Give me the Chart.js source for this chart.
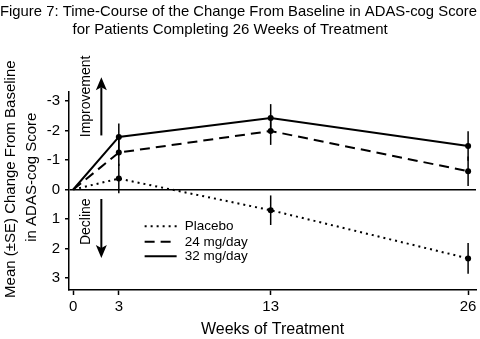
<!DOCTYPE html>
<html>
<head>
<meta charset="utf-8">
<script src="https://cdn.jsdelivr.net/npm/chart.js@4/dist/chart.umd.min.js"></script>
<style>
  html, body { margin: 0; padding: 0; background: #fff; }
  #wrap { width: 480px; height: 339px; }
</style>
</head>
<body>
<div id="wrap"><canvas id="chart" width="480" height="339"></canvas></div>
<script>
// Data
const weeks = [0, 3, 13, 26];
const yTicks = [-3, -2, -1, 0, 1, 2, 3];

const placebo = [0, -0.37, 0.70, 2.33];
const placeboSE = [0, 0.5, 0.5, 0.52];
const mg24 = [0, -1.25, -1.98, -0.62];
const mg24SE = [0, 0.45, 0.47, 0.5];
const mg32 = [0, -1.78, -2.42, -1.47];
const mg32SE = [0, 0.45, 0.47, 0.5];

const yTitle = ['Mean (\u00B1SE) Change From Baseline', 'in ADAS-cog Score'];

const FONT = 'Liberation Sans, Arial, Helvetica, sans-serif';

function makeSeries(label, values, se, dash) {
  return {
    label: label,
    data: weeks.map((w, i) => ({ x: w, y: values[i] })),
    se: se,
    borderColor: '#000',
    backgroundColor: '#000',
    borderWidth: 2,
    borderDash: dash,
    pointRadius: weeks.map((w, i) => (i === 0 ? 0 : 3)),
    pointBackgroundColor: '#000',
    pointBorderWidth: 0,
    tension: 0
  };
}

// error bars, direction arrows, y title and the legend box
const extrasPlugin = {
  id: 'extras',
  afterDatasetsDraw(chart) {
    const ctx = chart.ctx;
    const xs = chart.scales.x;
    const ys = chart.scales.y;
    ctx.save();
    ctx.strokeStyle = '#000';
    ctx.fillStyle = '#000';
    ctx.setLineDash([]);
    ctx.lineWidth = 1.5;

    chart.data.datasets.forEach(ds => {
      ds.data.forEach((p, i) => {
        if (!ds.se[i]) return;
        const x = xs.getPixelForValue(p.x);
        ctx.beginPath();
        ctx.moveTo(x, ys.getPixelForValue(p.y - ds.se[i]));
        ctx.lineTo(x, ys.getPixelForValue(p.y + ds.se[i]));
        ctx.stroke();
      });
    });

    // arrows
    const ax = xs.getPixelForValue(1.85);
    function arrow(y0, y1) {
      const dir = y1 > y0 ? 1 : -1;
      ctx.lineWidth = 2;
      ctx.beginPath();
      ctx.moveTo(ax, y0);
      ctx.lineTo(ax, y1 - dir * 10);
      ctx.stroke();
      ctx.beginPath();
      ctx.moveTo(ax, y1);
      ctx.lineTo(ax - 5.5, y1 - dir * 13);
      ctx.lineTo(ax, y1 - dir * 10);
      ctx.lineTo(ax + 5.5, y1 - dir * 13);
      ctx.closePath();
      ctx.fill();
    }
    arrow(ys.getPixelForValue(-1.83), ys.getPixelForValue(-3.8));
    arrow(ys.getPixelForValue(0.32), ys.getPixelForValue(2.32));

    function vtext(str, x, y, align) {
      ctx.save();
      ctx.translate(x, y);
      ctx.rotate(-Math.PI / 2);
      ctx.textAlign = align;
      ctx.fillText(str, 0, 0);
      ctx.restore();
    }

    ctx.font = '14px ' + FONT;
    ctx.textBaseline = 'middle';
    const tx = ax - 15;
    vtext('Improvement', tx, ys.getPixelForValue(-1.77), 'left');
    vtext('Decline', tx, ys.getPixelForValue(1.88), 'left');

    // y axis title, sits a bit above the plot centre
    ctx.font = '15px ' + FONT;
    const ymid = ys.getPixelForValue(-0.35);
    vtext(yTitle[0], 11, ymid, 'center');
    vtext(yTitle[1], 32, ymid - 2, 'center');

    // legend
    const lx0 = xs.getPixelForValue(4.7);
    const lx1 = lx0 + 32;
    const rows = [1.24, 1.77, 2.26];
    ctx.font = '13.5px ' + FONT;
    ctx.textAlign = 'left';
    chart.data.datasets.forEach((ds, i) => {
      const y = ys.getPixelForValue(rows[i]);
      ctx.lineWidth = 2;
      ctx.setLineDash(ds.borderDash || []);
      ctx.beginPath();
      ctx.moveTo(lx0, y);
      ctx.lineTo(lx1, y);
      ctx.stroke();
      ctx.setLineDash([]);
      ctx.fillText(ds.label, lx1 + 8, y);
    });
    ctx.restore();
  }
};

new Chart(document.getElementById('chart'), {
  type: 'line',
  data: {
    datasets: [
      makeSeries('Placebo', placebo, placeboSE, [2, 4]),
      makeSeries('24 mg/day', mg24, mg24SE, [10, 6]),
      makeSeries('32 mg/day', mg32, mg32SE, [])
    ]
  },
  options: {
    responsive: false,
    animation: false,
    events: [],
    layout: { padding: { right: 3 } },
    plugins: {
      legend: { display: false },
      tooltip: { enabled: false },
      title: {
        display: true,
        text: ['Figure 7: Time-Course of the Change From Baseline in ADAS-cog Score',
               'for Patients Completing 26 Weeks of Treatment    '],
        color: '#000',
        font: { family: FONT, size: 15, weight: 'normal', lineHeight: 1.2 },
        padding: { top: 3, bottom: 53 }
      }
    },
    scales: {
      x: {
        type: 'linear',
        min: -0.28,
        max: 26.52,
        afterFit: s => { s.height = 49; },
        afterBuildTicks: s => { s.ticks = weeks.map(v => ({ value: v })); },
        border: { color: '#000', width: 1.5 },
        grid: { drawOnChartArea: false, color: '#000', tickLength: 5, tickWidth: 1.5 },
        ticks: { color: '#000', padding: 3, font: { family: FONT, size: 15 } },
        title: {
          display: true,
          text: 'Weeks of Treatment',
          color: '#000',
          font: { family: FONT, size: 16, lineHeight: 1.2 },
          padding: { top: 0, bottom: 0 }
        }
      },
      y: {
        reverse: true,
        min: -3.3,
        max: 3.4,
        afterFit: s => { s.width = 69; },
        afterBuildTicks: s => { s.ticks = yTicks.map(v => ({ value: v })); },
        border: { color: '#000', width: 1.5 },
        grid: {
          drawOnChartArea: true,
          color: c => (c.tick && c.tick.value === 0 ? '#000' : 'rgba(0,0,0,0)'),
          lineWidth: 1.5,
          tickColor: '#000',
          tickLength: 4,
          tickWidth: 1.5
        },
        ticks: {
          color: '#000',
          padding: 5,
          font: { family: FONT, size: 15 },
          callback: v => String(v)
        }
      }
    }
  },
  plugins: [extrasPlugin]
});
</script>
</body>
</html>
